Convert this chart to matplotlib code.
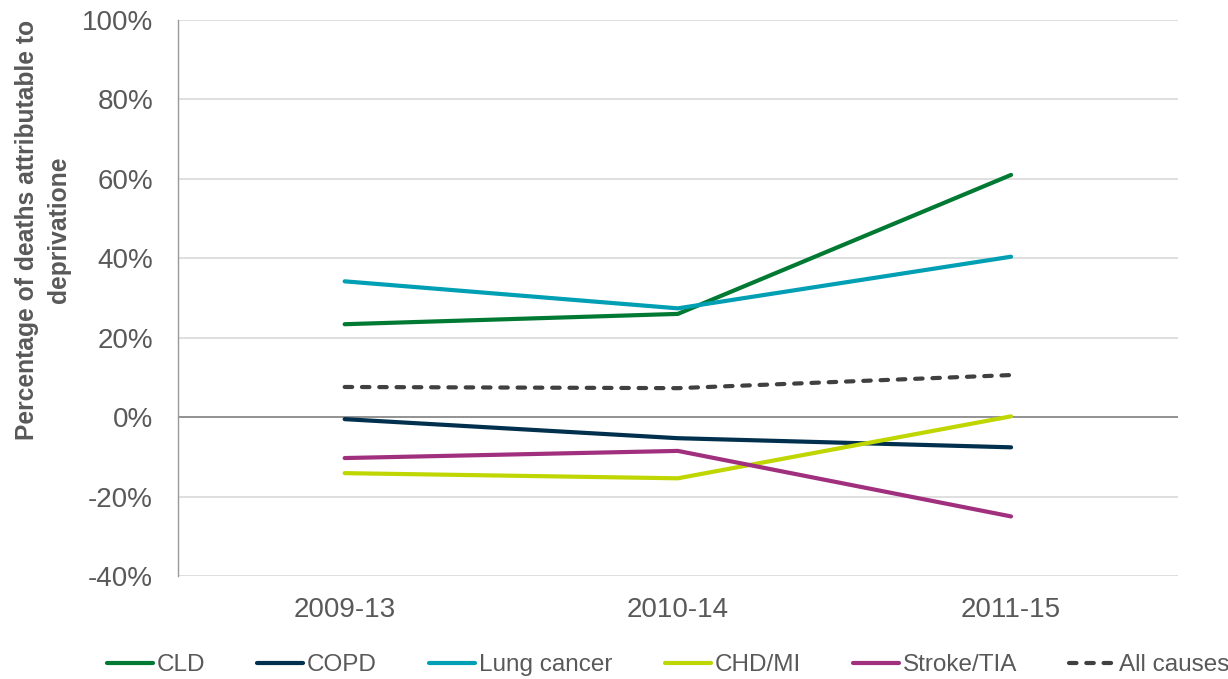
import matplotlib
matplotlib.use("Agg")
import matplotlib.pyplot as plt
from matplotlib.ticker import FuncFormatter

plt.rcParams['font.family'] = ['Liberation Sans', 'DejaVu Sans']

periods = ["2009-13", "2010-14", "2011-15"]
cld = [23.4, 26.0, 61.0]
copd = [-0.5, -5.3, -7.6]
lung_cancer = [34.2, 27.4, 40.4]
chd_mi = [-14.1, -15.4, 0.2]
stroke_tia = [-10.3, -8.5, -25.0]
all_causes = [7.6, 7.3, 10.6]

series = [
    ("CLD", cld, "#007A33", "-"),
    ("COPD", copd, "#00304E", "-"),
    ("Lung cancer", lung_cancer, "#009FB4", "-"),
    ("CHD/MI", chd_mi, "#BFD600", "-"),
    ("Stroke/TIA", stroke_tia, "#A0307E", "-"),
    ("All causes", all_causes, "#404040", "--"),
]

fig = plt.figure(figsize=(12.28, 6.79), dpi=100)
ax = fig.add_axes([0.145, 0.1517, 0.814, 0.8188])

x = list(range(len(periods)))
for name, vals, col, ls in series:
    if ls == "--":
        ax.plot(x, vals, color=col, lw=3.0, ls=(0, (1.8, 2.35)), label=name,
                dash_capstyle='round', solid_capstyle='round')
    else:
        ax.plot(x, vals, color=col, lw=3.0, label=name, solid_capstyle='round')

ax.set_xlim(-0.5, 2.5)
ax.set_ylim(-40, 100)
ax.set_yticks(range(-40, 101, 20))
ax.yaxis.set_major_formatter(FuncFormatter(lambda v, p: f"{int(v)}%"))
ax.set_xticks(x)
ax.set_xticklabels(periods)

ax.grid(axis='y', color='#D9D9D9', lw=1.2)
ax.set_axisbelow(True)
ax.axhline(0, color='#8C8C8C', lw=1.3, zorder=1)
for s in ['top', 'right', 'bottom']:
    ax.spines[s].set_visible(False)
ax.spines['left'].set_color('#999999')
ax.spines['left'].set_linewidth(1.0)
ax.tick_params(axis='both', length=0, labelsize=20, colors='#595959')
ax.tick_params(axis='y', pad=18)
ax.tick_params(axis='x', pad=15)

fig.text(43 / 1228, 1 - 230 / 679, "Percentage of deaths attributable to\ndeprivatione",
         rotation=90, ha='center', va='center', fontsize=17.7, fontweight='bold',
         color='#595959', linespacing=1.4, multialignment='center')

handles, labels = ax.get_legend_handles_labels()
leg = fig.legend(handles, labels, loc='center', bbox_to_anchor=(668 / 1228, 14 / 679),
                 ncol=6, frameon=False, fontsize=17.5, handlelength=1.9,
                 handletextpad=0.15, columnspacing=2.15)
for t in leg.get_texts():
    t.set_color('#595959')

fig.savefig("out.png", dpi=100)
